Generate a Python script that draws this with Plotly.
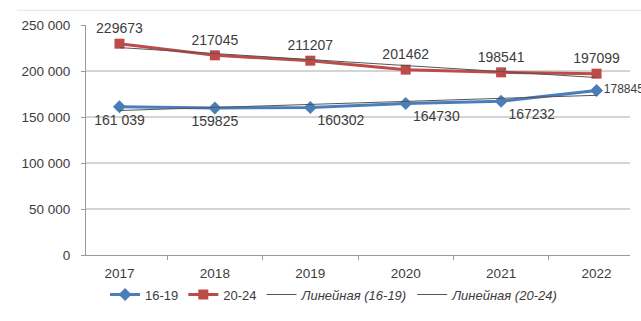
import numpy as np
import plotly.graph_objects as go

years = ["2017", "2018", "2019", "2020", "2021", "2022"]
s16_19 = [161039, 159825, 160302, 164730, 167232, 178845]
s20_24 = [229673, 217045, 211207, 201462, 198541, 197099]
labels16 = ["161 039", "159825", "160302", "164730", "167232", "178845"]
labels20 = ["229673", "217045", "211207", "201462", "198541", "197099"]
ytick_vals = [0, 50000, 100000, 150000, 200000, 250000]
ytick_text = ["0", "50 000", "100 000", "150 000", "200 000", "250 000"]

BLUE = "#4A7EBB"
RED = "#BE4B48"
TXT = "#3c3c3c"
FONT = "Liberation Sans"

idx = np.arange(len(years))
fit16 = np.polyval(np.polyfit(idx, s16_19, 1), idx)
fit20 = np.polyval(np.polyfit(idx, s20_24, 1), idx)

pos16 = ["bottom center", "bottom center", "bottom right", "bottom right", "bottom right", "middle right"]
size16 = [14, 14, 14, 14, 14, 12]

fig = go.Figure()
fig.add_trace(go.Scatter(
    x=years, y=s16_19, name="16-19", mode="lines+markers+text",
    line=dict(color=BLUE, width=3), marker=dict(symbol="diamond", size=10, color=BLUE),
    text=labels16, textposition=pos16,
    textfont=dict(size=size16, color=TXT, family=FONT), cliponaxis=False,
))
fig.add_trace(go.Scatter(
    x=years, y=s20_24, name="20-24", mode="lines+markers+text",
    line=dict(color=RED, width=3), marker=dict(symbol="square", size=10, color=RED),
    text=labels20, textposition="top center",
    textfont=dict(size=14, color=TXT, family=FONT), cliponaxis=False,
))
fig.add_trace(go.Scatter(
    x=years, y=fit16, name="<i>Линейная (16-19)</i>", mode="lines",
    line=dict(color="#555555", width=1), cliponaxis=False,
))
fig.add_trace(go.Scatter(
    x=years, y=fit20, name="<i>Линейная (20-24)</i>", mode="lines",
    line=dict(color="#555555", width=1), cliponaxis=False,
))

fig.update_layout(
    width=641, height=321,
    margin=dict(l=86, r=11, t=25, b=60),
    paper_bgcolor="white", plot_bgcolor="white",
    font=dict(family=FONT, size=13, color=TXT),
    showlegend=True,
    legend=dict(orientation="h", x=0.456, xanchor="center", y=-0.172, yanchor="middle",
                font=dict(size=13, color=TXT), itemwidth=30, tracegroupgap=0,
                bgcolor="rgba(0,0,0,0)"),
    shapes=[dict(type="line", xref="paper", yref="paper", x0=-0.127, x1=1.03,
                 y0=1.064, y1=1.064, line=dict(color="#e4e4e4", width=1))],
)
fig.update_xaxes(type="category", showline=True, linecolor="#9a9a9a", linewidth=1,
                 ticks="outside", tickson="boundaries", ticklen=4, tickcolor="#9a9a9a",
                 showgrid=False, tickfont=dict(size=13.5, color=TXT),
                 ticklabelstandoff=6, automargin=False)
fig.update_yaxes(range=[0, 250000], tickvals=ytick_vals, ticktext=ytick_text,
                 showline=True, linecolor="#9a9a9a", linewidth=1,
                 ticks="outside", ticklen=4, tickcolor="#9a9a9a",
                 showgrid=True, gridcolor="#d4d4d4", gridwidth=1.5, zeroline=False,
                 tickfont=dict(size=13.5, color=TXT), ticklabelstandoff=8,
                 automargin=False)

# remove the browser's default 8px body margin so the figure sits at the page origin
fig.write_html("out.html", config={"displayModeBar": False},
               post_script="document.body.style.margin='0px';")
